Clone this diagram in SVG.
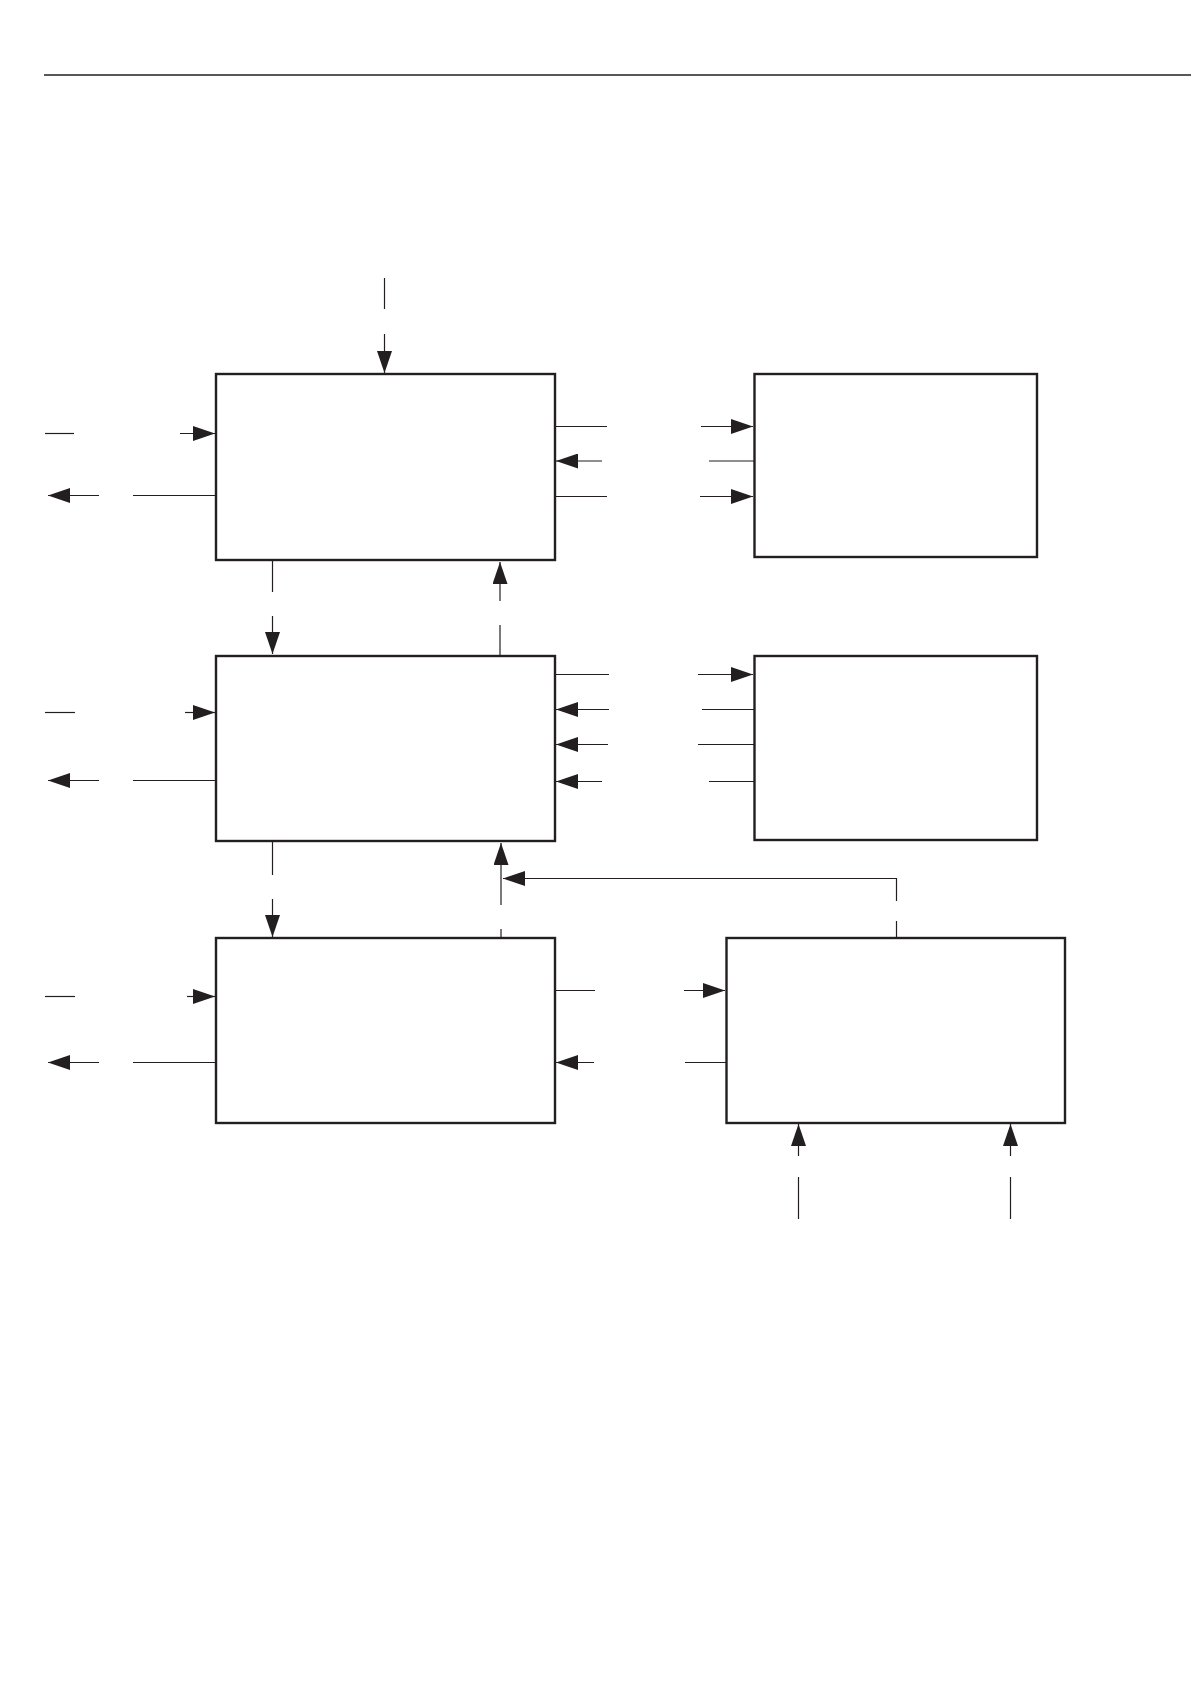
<svg xmlns="http://www.w3.org/2000/svg" width="1191" height="1684" viewBox="0 0 1191 1684">
<style>
.box{fill:#fff;stroke:#231f20;stroke-width:2.4}
.ln{fill:none;stroke:#231f20;stroke-width:1.2}
.ar{fill:none;stroke:#231f20;stroke-width:1.2;marker-end:url(#ah)}
</style>
<defs>
<marker id="ah" markerUnits="userSpaceOnUse" markerWidth="23" markerHeight="15" refX="22" refY="7.5" orient="auto">
<path d="M0,0 L22,7.5 L0,15 z" fill="#231f20"/>
</marker>
</defs>
<rect width="1191" height="1684" fill="#fff"/>
<line x1="44" y1="75" x2="1191" y2="75" stroke="#231f20" stroke-width="1.3"/>
<g id="node1"><rect class="box" x="216" y="374" width="339" height="186"/></g>
<g id="node2"><rect class="box" x="754.5" y="374" width="282.5" height="183"/></g>
<g id="node3"><rect class="box" x="216" y="656" width="339" height="185"/></g>
<g id="node4"><rect class="box" x="754.5" y="656" width="282.5" height="184"/></g>
<g id="node5"><rect class="box" x="216" y="938" width="339" height="185"/></g>
<g id="node6"><rect class="box" x="726.5" y="938" width="338.5" height="185"/></g>
<g id="connectors">
<line class="ln" x1="384.5" y1="278" x2="384.5" y2="309"/>
<line class="ar" x1="384.5" y1="334" x2="384.5" y2="373"/>
<line class="ln" x1="45" y1="433.5" x2="74" y2="433.5"/>
<line class="ar" x1="180" y1="433.5" x2="215" y2="433.5"/>
<line class="ln" x1="216" y1="495.5" x2="133" y2="495.5"/>
<line class="ar" x1="99" y1="495.5" x2="48" y2="495.5"/>
<line class="ln" x1="555" y1="426.5" x2="607" y2="426.5"/>
<line class="ar" x1="701" y1="426.5" x2="753" y2="426.5"/>
<line class="ln" x1="754.5" y1="461" x2="709" y2="461"/>
<line class="ar" x1="602" y1="461" x2="556" y2="461"/>
<line class="ln" x1="555" y1="496.5" x2="607" y2="496.5"/>
<line class="ar" x1="700" y1="496.5" x2="753" y2="496.5"/>
<line class="ln" x1="272.5" y1="560" x2="272.5" y2="592"/>
<line class="ar" x1="272.5" y1="616" x2="272.5" y2="654"/>
<line class="ln" x1="500" y1="656" x2="500" y2="625"/>
<line class="ar" x1="500" y1="601" x2="500" y2="562"/>
<line class="ln" x1="45" y1="712.5" x2="75" y2="712.5"/>
<line class="ar" x1="185" y1="712.5" x2="215" y2="712.5"/>
<line class="ln" x1="216" y1="780.5" x2="133" y2="780.5"/>
<line class="ar" x1="99" y1="780.5" x2="48" y2="780.5"/>
<line class="ln" x1="555" y1="674.5" x2="609" y2="674.5"/>
<line class="ar" x1="698" y1="674.5" x2="753" y2="674.5"/>
<line class="ln" x1="754.5" y1="709.5" x2="702" y2="709.5"/>
<line class="ar" x1="609" y1="709.5" x2="556" y2="709.5"/>
<line class="ln" x1="754.5" y1="744.5" x2="698" y2="744.5"/>
<line class="ar" x1="608" y1="744.5" x2="556" y2="744.5"/>
<line class="ln" x1="754.5" y1="781.5" x2="709" y2="781.5"/>
<line class="ar" x1="602" y1="781.5" x2="556" y2="781.5"/>
<line class="ln" x1="272.5" y1="841" x2="272.5" y2="875"/>
<line class="ar" x1="272.5" y1="899" x2="272.5" y2="937"/>
<line class="ln" x1="501" y1="938" x2="501" y2="929"/>
<line class="ar" x1="501" y1="905" x2="501" y2="843"/>
<line class="ln" x1="896.5" y1="938" x2="896.5" y2="921"/>
<polyline class="ar" points="896.5,901 896.5,878.5 503,878.5"/>
<line class="ln" x1="45" y1="996.5" x2="75" y2="996.5"/>
<line class="ar" x1="187" y1="996.5" x2="215" y2="996.5"/>
<line class="ln" x1="216" y1="1062.5" x2="133" y2="1062.5"/>
<line class="ar" x1="99" y1="1062.5" x2="48" y2="1062.5"/>
<line class="ln" x1="555" y1="990.5" x2="595" y2="990.5"/>
<line class="ar" x1="684" y1="990.5" x2="725" y2="990.5"/>
<line class="ln" x1="726.5" y1="1062.5" x2="685" y2="1062.5"/>
<line class="ar" x1="594" y1="1062.5" x2="556" y2="1062.5"/>
<line class="ln" x1="798.5" y1="1219" x2="798.5" y2="1177"/>
<line class="ar" x1="798.5" y1="1156" x2="798.5" y2="1124"/>
<line class="ln" x1="1010.5" y1="1219" x2="1010.5" y2="1177"/>
<line class="ar" x1="1010.5" y1="1156" x2="1010.5" y2="1124"/>
</g>
</svg>
